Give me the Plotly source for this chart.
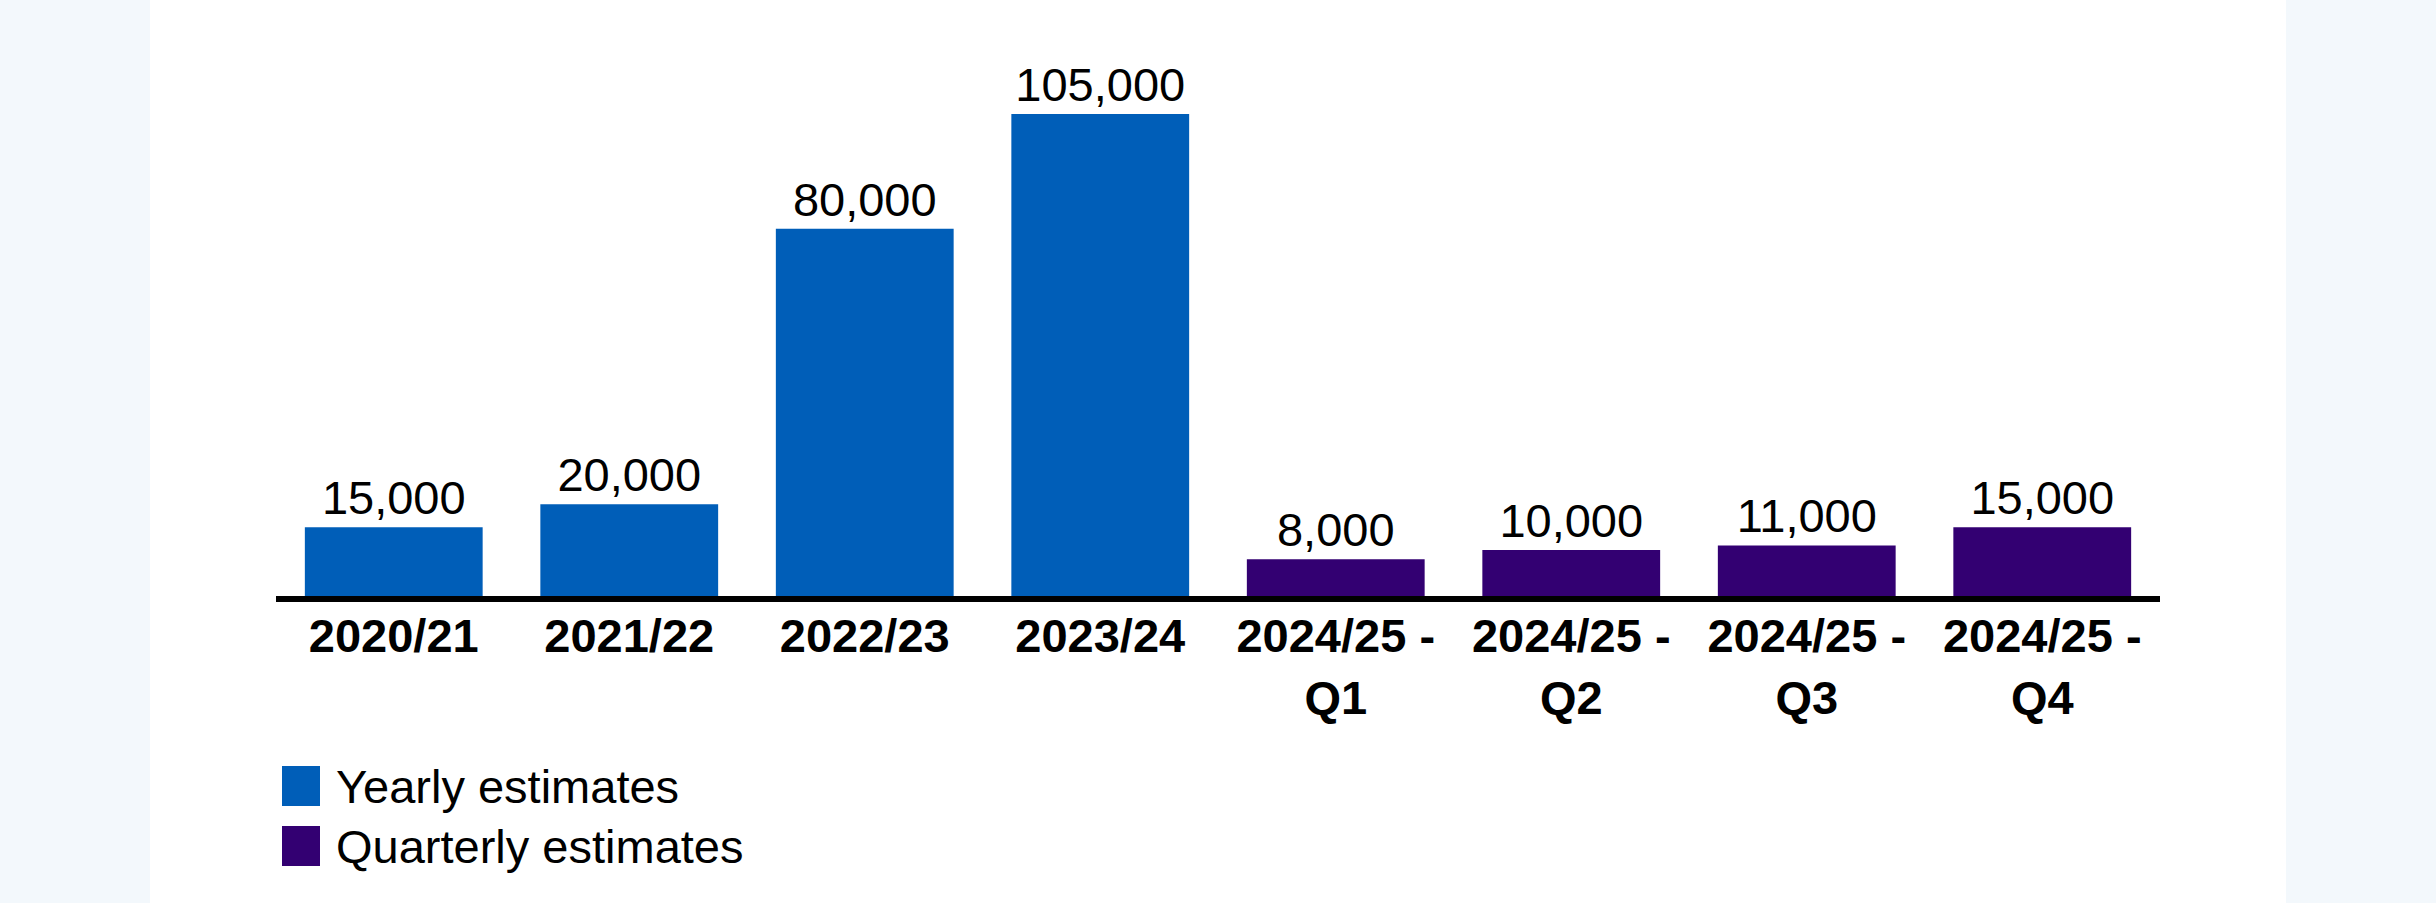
import plotly.graph_objects as go

# ---- data ----
yearly_categories = ["2020/21", "2021/22", "2022/23", "2023/24"]
yearly_values = [15000, 20000, 80000, 105000]
quarterly_categories = ["2024/25 -<br>Q1", "2024/25 -<br>Q2", "2024/25 -<br>Q3", "2024/25 -<br>Q4"]
quarterly_values = [8000, 10000, 11000, 15000]
series_names = ["Yearly estimates", "Quarterly estimates"]
series_colors = ["#005EB8", "#330072"]

W, H = 2436, 903
ML, MR, MT, MB = 276, 276, 45, 307
FONT = "Liberation Sans, Arial, sans-serif"
FS = 47

fig = go.Figure()
fig.add_trace(go.Bar(
    x=yearly_categories, y=yearly_values, name=series_names[0],
    marker=dict(color=series_colors[0], line=dict(width=0)),
    texttemplate="%{y:,}", textposition="outside", cliponaxis=False,
    textfont=dict(family=FONT, size=FS, color="#000000"),
))
fig.add_trace(go.Bar(
    x=quarterly_categories, y=quarterly_values, name=series_names[1],
    marker=dict(color=series_colors[1], line=dict(width=0)),
    texttemplate="%{y:,}", textposition="outside", cliponaxis=False,
    textfont=dict(family=FONT, size=FS, color="#000000"),
))

plot_w = W - ML - MR
plot_h = H - MT - MB

def px_to_paper_x(px):
    return (px - ML) / plot_w

def px_to_paper_y(py):
    return (H - MB - py) / plot_h

shapes = [
    dict(type="rect", xref="paper", yref="paper", layer="below",
         x0=px_to_paper_x(150), x1=px_to_paper_x(2286),
         y0=px_to_paper_y(H + 5), y1=px_to_paper_y(-5),
         fillcolor="#FFFFFF", line=dict(width=0)),
]
annotations = []
legend_rows = [786, 846]
for name, color, cy in zip(series_names, series_colors, legend_rows):
    shapes.append(dict(type="rect", xref="paper", yref="paper", layer="above",
                       x0=px_to_paper_x(282), x1=px_to_paper_x(320),
                       y0=px_to_paper_y(cy + 20), y1=px_to_paper_y(cy - 20),
                       fillcolor=color, line=dict(width=0)))
    annotations.append(dict(xref="paper", yref="paper", x=px_to_paper_x(334), y=px_to_paper_y(cy),
                            xanchor="left", yanchor="middle", showarrow=False, text=name,
                            font=dict(family=FONT, size=FS, color="#000000")))

fig.update_layout(
    width=W, height=H,
    margin=dict(l=ML, r=MR, t=MT, b=MB, pad=0),
    paper_bgcolor="#F3F8FC",
    plot_bgcolor="rgba(0,0,0,0)",
    showlegend=False,
    bargap=0.245,
    barmode="overlay",
    shapes=shapes,
    annotations=annotations,
    xaxis=dict(
        categoryorder="array",
        categoryarray=yearly_categories + quarterly_categories,
        showgrid=False, zeroline=False,
        showline=True, linecolor="#000000", linewidth=6,
        ticks="",
        ticklabelstandoff=-6,
        tickfont=dict(family=FONT, size=FS, color="#000000", weight="bold"),
    ),
    yaxis=dict(range=[0, 120000], visible=False, showgrid=False, zeroline=False),
)

fig.write_html(
    "out.html",
    config={"displayModeBar": False},
    post_script="document.body.style.margin='0px';document.body.style.overflow='hidden';",
)
